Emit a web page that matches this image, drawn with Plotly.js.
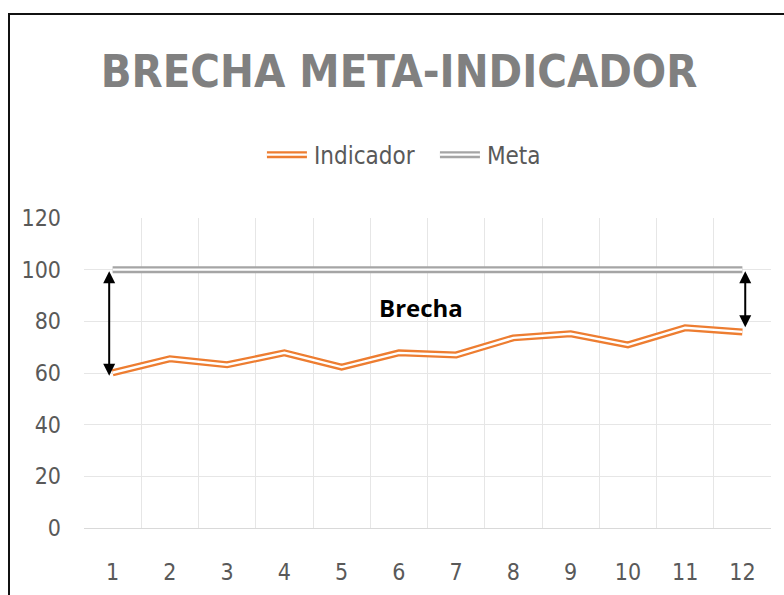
<!DOCTYPE html>
<html>
<head>
<meta charset="utf-8">
<script src="https://cdn.plot.ly/plotly-3.0.1.min.js"></script>
<style>
  html, body { margin: 0; padding: 0; background: #ffffff; overflow: hidden; }
  #frame { position: absolute; left: 8px; top: 13px; width: 900px; height: 700px;
           border-left: 2px solid #111; border-top: 2px solid #111; }
  #chart { position: absolute; left: 0; top: 0; width: 784px; height: 595px; }
</style>
</head>
<body>
<div id="frame"></div>
<div id="chart"></div>
<script>
// ---- data ----
const periods = [1, 2, 3, 4, 5, 6, 7, 8, 9, 10, 11, 12];
const indicador = [60.1, 65.5, 63.2, 67.8, 62.3, 67.8, 67.0, 73.6, 75.2, 70.9, 77.5, 75.9];
const meta = [100, 100, 100, 100, 100, 100, 100, 100, 100, 100, 100, 100];
const seriesNames = ['Indicador', 'Meta'];
const titleText = 'BRECHA META-INDICADOR';
const gapLabel = 'Brecha';
const yTicks = [0, 20, 40, 60, 80, 100, 120];

const orange = '#ED7D31';
const grey = '#A5A5A5';
const narrow = '"DejaVu Sans Condensed", "DejaVu Sans", sans-serif';

const traces = [
  { x: periods, y: indicador, name: seriesNames[0], type: 'scatter', mode: 'lines',
    line: { color: orange, width: 7 }, hoverinfo: 'x+y' },
  { x: periods, y: indicador, type: 'scatter', mode: 'lines', showlegend: false,
    line: { color: '#ffffff', width: 2.4 }, hoverinfo: 'skip' },
  { x: periods, y: meta, name: seriesNames[1], type: 'scatter', mode: 'lines',
    line: { color: grey, width: 7 }, hoverinfo: 'x+y' },
  { x: periods, y: meta, type: 'scatter', mode: 'lines', showlegend: false,
    line: { color: '#ffffff', width: 2.4 }, hoverinfo: 'skip' }
];

const first = 0, last = periods.length - 1;
const annotations = [
  { x: periods[first] - 0.06, y: indicador[first] - 1.2, ax: periods[first] - 0.06, ay: meta[first],
    xref: 'x', yref: 'y', axref: 'x', ayref: 'y', text: '', showarrow: true,
    arrowhead: 2, arrowside: 'end+start', arrowsize: 1.2, arrowwidth: 2, arrowcolor: '#000000',
    standoff: 0, startstandoff: 0 },
  { x: periods[last] + 0.05, y: indicador[last] + 1.8, ax: periods[last] + 0.05, ay: meta[last],
    xref: 'x', yref: 'y', axref: 'x', ayref: 'y', text: '', showarrow: true,
    arrowhead: 2, arrowside: 'end+start', arrowsize: 1.2, arrowwidth: 2, arrowcolor: '#000000',
    standoff: 0, startstandoff: 0 },
  { x: 6.39, y: 85.5, xref: 'x', yref: 'y', text: '<b>' + gapLabel + '</b>', showarrow: false,
    font: { family: '"Open Sans", sans-serif', size: 24, color: '#000000' } }
];

const layout = {
  width: 784, height: 595,
  paper_bgcolor: 'rgba(0,0,0,0)', plot_bgcolor: '#ffffff',
  margin: { l: 84, r: 13, t: 218, b: 67 },
  title: { text: '<b>' + titleText + '</b>', xref: 'container', yref: 'container',
    x: 0.509, xanchor: 'center', y: 0.88, yanchor: 'middle',
    font: { family: narrow, size: 45, color: '#808080' } },
  showlegend: true,
  legend: { orientation: 'h', x: 0.259, xanchor: 'left', y: 1.203, yanchor: 'middle',
    font: { family: narrow, size: 24, color: '#595959' }, bgcolor: 'rgba(0,0,0,0)',
    itemwidth: 30, tracegroupgap: 0, entrywidth: 128, entrywidthmode: 'pixels' },
  xaxis: { range: [0.5, 12.5], tickmode: 'array', tickvals: periods, ticktext: periods.map(String),
    showgrid: false, zeroline: false, showline: false, ticks: '',
    minor: { tickmode: 'linear', tick0: 0.5, dtick: 1, showgrid: true, gridcolor: '#e6e6e6', gridwidth: 1, ticks: '' },
    ticklabelstandoff: 28,
    tickfont: { family: narrow, size: 23, color: '#595959' }, fixedrange: true },
  yaxis: { range: [0, 120], tickmode: 'array', tickvals: yTicks, showgrid: true, gridcolor: '#e6e6e6',
    gridwidth: 1, zeroline: true, zerolinecolor: '#d9d9d9', zerolinewidth: 1, showline: false, ticks: '',
    ticklabelstandoff: 22,
    tickfont: { family: narrow, size: 23, color: '#595959' }, fixedrange: true },
  annotations: annotations
};

Plotly.newPlot('chart', traces, layout, { displayModeBar: false, staticPlot: true }).then(function (gd) {
  // give the legend symbols the same longer double-line look as the traces
  gd.querySelectorAll('.legend .traces').forEach(function (item) {
    const p = item.querySelector('.js-line');
    if (p) {
      p.setAttribute('d', 'M5,0h40');
      const inner = p.cloneNode(true);
      inner.style.stroke = '#ffffff';
      inner.style.strokeWidth = '2.4px';
      p.parentNode.appendChild(inner);
    }
    const t = item.querySelector('text.legendtext');
    if (t) t.setAttribute('x', '52');
  });
});
</script>
</body>
</html>
